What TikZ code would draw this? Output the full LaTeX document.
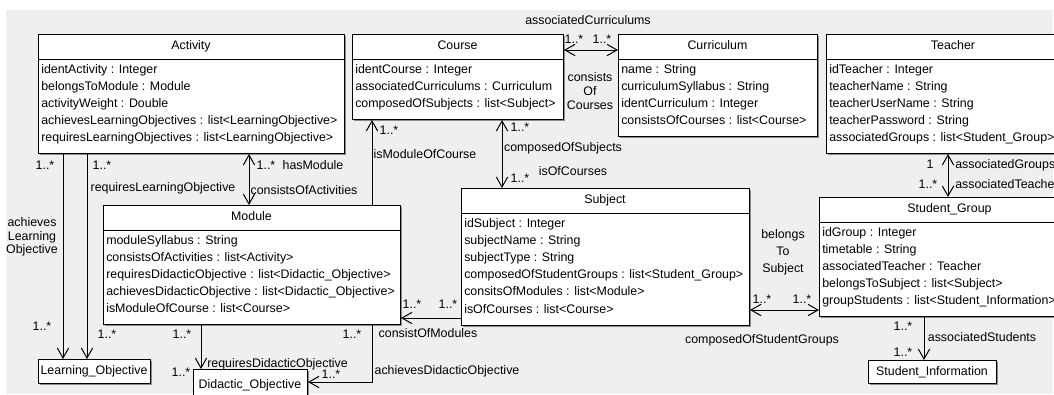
\documentclass[tikz,border=0pt]{standalone}
\usepackage{fontspec}
\setmainfont{Liberation Sans}
\usetikzlibrary{arrows.meta,shadows,calc}
\definecolor{bg}{RGB}{239,239,239}
\tikzset{
  x=0.75pt, y=-0.75pt,
  every node/.style={font=\fontsize{9.3}{10.5}\selectfont, inner sep=0pt},
  box/.style={draw=black, line width=0.75pt, fill=white,
    general shadow={fill=black!45, shadow xshift=1.1pt, shadow yshift=-1.1pt}},
  lbl/.style={text height=6.7pt, text depth=2pt},
  attr/.style={anchor=base west},
  conn/.style={line width=0.75pt},
  >={Straight Barb[length=7.5pt,width=8.5pt]}
}
% class box: name, x1, y1, x2, y2, title, attribute list
\newcommand\umlcls[7]{%
  \node[box, minimum width={(#4-#2)*0.75pt}, minimum height={(#5-#3)*0.75pt}, anchor=north west] (#1) at (#2,#3) {};
  \draw[line width=0.75pt] ($(#1.north west)+(0,25)$) -- ($(#1.north east)+(0,25)$);
  \node[lbl] (#1-t) at ({(#2+#4)/2},{#3+12.5}) {#6};
  \foreach \t [count=\i from 0] in {#7}
    \node[attr] (#1-a\i) at ({#2+3},{#3+39+17.2*\i}) {\t};
}
\newcommand\smallbox[6]{%
  \node[box, minimum width={(#4-#2)*0.75pt}, minimum height={(#5-#3)*0.75pt}, anchor=north west] (#1) at (#2,#3) {};
  \node[lbl] (#1-t) at ({(#2+#4)/2},{#3+12}) {#6};
}
\begin{document}
\begin{tikzpicture}
\useasboundingbox (0,0) rectangle (1054,394);
\clip (0,0) rectangle (1054,394);
\fill[bg] (6,10) rectangle (1053,394);

\umlcls{act}{38}{34}{344}{153}{Activity}{{identActivity : Integer},{belongsToModule : Module},{activityWeight : Double},{achievesLearningObjectives : list<LearningObjective>},{requiresLearningObjectives : list<LearningObjective>}}
\umlcls{crs}{352}{34}{563}{119}{Course}{{identCourse : Integer},{associatedCurriculums : Curriculum},{composedOfSubjects : list<Subject>}}
\umlcls{cur}{618}{34}{817}{136}{Curriculum}{{name : String},{curriculumSyllabus : String},{identCurriculum : Integer},{consistsOfCourses : list<Course>}}
\umlcls{tch}{826}{34}{1080}{153}{Teacher}{{idTeacher : Integer},{teacherName : String},{teacherUserName : String},{teacherPassword : String},{associatedGroups : list<Student\_Group>}}
\umlcls{mod}{103}{205}{400}{324}{Module}{{moduleSyllabus : String},{consistsOfActivities : list<Activity>},{requiresDidacticObjective : list<Didactic\_Objective>},{achievesDidacticObjective : list<Didactic\_Objective>},{isModuleOfCourse : list<Course>}}
\umlcls{sub}{461}{188}{749}{325}{Subject}{{idSubject : Integer},{subjectName : String},{subjectType : String},{composedOfStudentGroups : list<Student\_Group>},{consitsOfModules : list<Module>},{isOfCourses : list<Course>}}
\umlcls{sg}{819}{197}{1080}{316}{Student\_Group}{{idGroup : Integer},{timetable : String},{associatedTeacher : Teacher},{belongsToSubject : list<Subject>},{groupStudents : list<Student\_Information>}}
\smallbox{lo}{38}{359}{150}{383}{Learning\_Objective}
\smallbox{si}{868}{360}{996}{383}{Student\_Information}
\node[box, minimum width={114*0.75pt}, minimum height={31*0.75pt}, anchor=north west] (do) at (193,369) {};
\node[lbl] (do-t) at (250,385) {Didactic\_Objective};

% connectors
\draw[conn,<->] (crs.east |- 0,50) -- (cur.west |- 0,50);
\draw[conn,<->] (crs.south -| 502,0) -- (sub.north -| 502,0);
\draw[conn,->] (mod.north -| 372,0) -- (crs.south -| 372,0);
\draw[conn,<->] (act.south -| 249,0) -- (mod.north -| 249,0);
\draw[conn,->] (act.south -| 63,0) -- (lo.north -| 63,0);
\draw[conn,->] (act.south -| 87,0) -- (lo.north -| 87,0);
\draw[conn,->] (mod.south -| 201,0) -- (do.north -| 201,0);
\draw[conn,->] (mod.south -| 372,0) |- (do.east |- 0,382);
\draw[conn,->] (sub.west |- 0,318) -- (mod.east |- 0,318);
\draw[conn,<->] (sub.east |- 0,310) -- (sg.west |- 0,310);
\draw[conn,<->] (tch.south -| 948,0) -- (sg.north -| 948,0);
\draw[conn,->] (sg.south -| 924,0) -- (si.north -| 924,0);

% labels
\node[lbl] (l1) at (588,21) {associatedCurriculums};
\node[lbl] (l2) at (574,40) {1..*};
\node[lbl] (l3) at (602,40) {1..*};
\node[align=center] (l4) at (590,91) {consists\\Of\\Courses};
\node[lbl] (l5) at (520,128) {1..*};
\node[lbl] (l6) at (563,148) {composedOfSubjects};
\node[lbl] (l7) at (573,172) {isOfCourses};
\node[lbl] (l8) at (520,179) {1..*};
\node[lbl] (l9) at (389,131) {1..*};
\node[lbl] (l10) at (425,155) {isModuleOfCourse};
\node[lbl] (l11) at (266,166) {1..*};
\node[lbl] (l12) at (313,166) {hasModule};
\node[lbl] (l13) at (304,191) {consistsOfActivities};
\node[lbl] (l14) at (45,166) {1..*};
\node[lbl] (l15) at (102,166) {1..*};
\node[lbl] (l16) at (163,188) {requiresLearningObjective};
\node[align=center, font=\fontsize{9.3}{10.1}\selectfont] (l17) at (32,237) {achieves\\Learning\\Objective};
\node[lbl] (l18) at (42,327) {1..*};
\node[lbl] (l19) at (107,335) {1..*};
\node[lbl] (l20) at (182,335) {1..*};
\node[lbl, anchor=west] (l21) at (207,364) {requiresDidacticObjective};
\node[lbl] (l22) at (181,373) {1..*};
\node[lbl] (l23) at (352,335) {1..*};
\node[lbl] (l24) at (331,375) {1..*};
\node[lbl] (l25) at (447,371) {achievesDidacticObjective};
\node[lbl] (l26) at (412,305) {1..*};
\node[lbl] (l27) at (448,305) {1..*};
\node[lbl] (l28) at (428,334) {consistOfModules};
\node[lbl] (l29) at (762,300) {1..*};
\node[lbl] (l30) at (802,300) {1..*};
\node[align=center, font=\fontsize{9.3}{12.9}\selectfont] (l31) at (783,252) {belongs\\To\\Subject};
\node[lbl] (l32) at (762,340) {composedOfStudentGroups};
\node[lbl] (l33) at (930,165) {1};
\node[lbl, anchor=west] (l34) at (955,165) {associatedGroups};
\node[lbl] (l35) at (928,185) {1..*};
\node[lbl, anchor=west] (l36) at (955,185) {associatedTeacher};
\node[lbl] (l37) at (903,327) {1..*};
\node[lbl] (l38) at (982,338) {associatedStudents};
\node[lbl] (l39) at (903,353) {1..*};
\end{tikzpicture}
\end{document}
